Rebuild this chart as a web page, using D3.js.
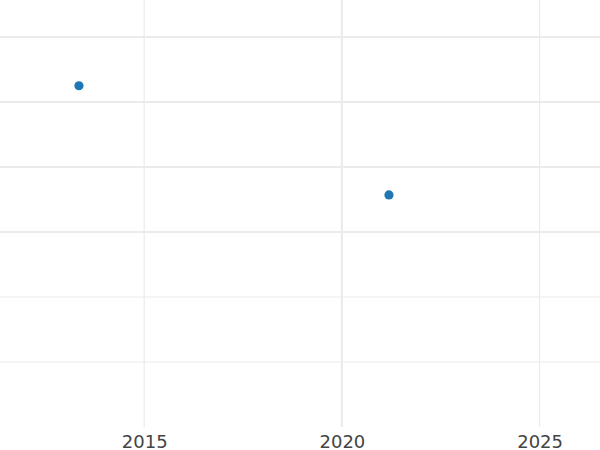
<!DOCTYPE html>
<html>
<head>
<meta charset="utf-8">
<script src="https://cdn.jsdelivr.net/npm/d3@7"></script>
<style>
html,body{margin:0;padding:0;background:#fff;}
svg{display:block;}
</style>
</head>
<body>
<svg id="chart" width="600" height="450"></svg>
<script>
// Data
const years = [2013.35, 2021.19];
const values = [52.5, 35.7];
const xTicks = [2015, 2020, 2025];
const xTickLabels = ["2015", "2020", "2025"];
const yTicks = [10, 20, 30, 40, 50, 60];

const W = 600, H = 450;
const plotBottom = 427;
const svg = d3.select("#chart");

const x = d3.scaleLinear().domain([2015, 2025]).range([144.2, 539.6]);
const y = d3.scaleLinear().domain([10, 60]).range([362, 37]);

// horizontal grid
svg.append("g").selectAll("line").data(yTicks).join("line")
  .attr("x1", 0).attr("x2", W)
  .attr("y1", d => y(d)).attr("y2", d => y(d))
  .attr("stroke", "#ebebeb").attr("stroke-width", (d) => d >= 30 ? 2.2 : 1.2);

// vertical grid
svg.append("g").selectAll("line").data(xTicks).join("line")
  .attr("x1", d => x(d)).attr("x2", d => x(d))
  .attr("y1", 0).attr("y2", plotBottom)
  .attr("stroke", "#ebebeb").attr("stroke-width", d => d === 2020 ? 2.2 : 1.2);

// x axis labels
const xAxis = d3.axisBottom(x).tickValues(xTicks).tickFormat((d, i) => xTickLabels[i]).tickSize(0).tickPadding(0);
const gx = svg.append("g").attr("transform", `translate(0,${plotBottom})`).call(xAxis);
gx.select(".domain").remove();
gx.selectAll("text")
  .attr("dy", null).attr("y", 20.5)
  .attr("font-family", "DejaVu Sans")
  .attr("font-size", 18)
  .attr("fill", "#444");

// points
svg.append("g").selectAll("circle").data(years).join("circle")
  .attr("cx", d => x(d))
  .attr("cy", (d, i) => y(values[i]))
  .attr("r", 4.6)
  .attr("fill", "#1f77b4");
</script>
</body>
</html>
